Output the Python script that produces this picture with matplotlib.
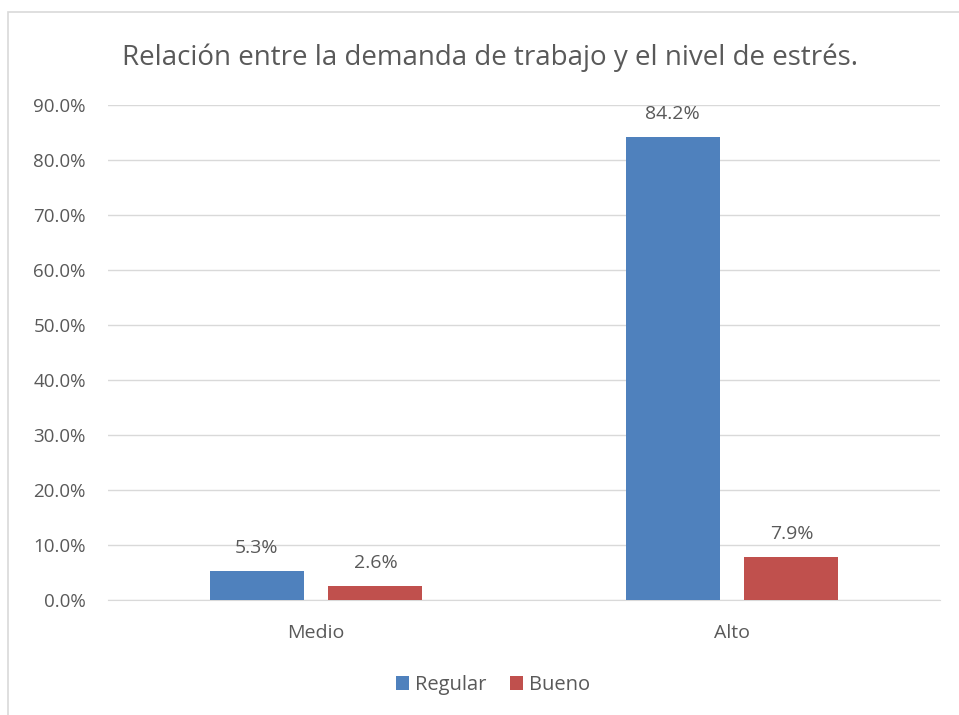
import matplotlib.pyplot as plt
import matplotlib.patches as mpatches
import numpy as np

categories = ['Medio', 'Alto']
series_names = ['Regular', 'Bueno']
regular = [0.053, 0.842]
bueno = [0.026, 0.079]
yticks = [0.0, 0.1, 0.2, 0.3, 0.4, 0.5, 0.6, 0.7, 0.8, 0.9]

plt.rcParams['font.family'] = ['Open Sans', 'DejaVu Sans']
text_color = '#595959'

fig = plt.figure(figsize=(9.59, 7.15), dpi=100)
ax = fig.add_axes([108 / 959, 115 / 715, 832 / 959, 495 / 715])

# outer chart border (cut off at right and bottom like the screenshot)
fig.patches.append(mpatches.Rectangle((8 / 959, -0.1), 2, (715 - 12) / 715 + 0.1,
                                      transform=fig.transFigure, fill=False,
                                      edgecolor='#d9d9d9', lw=1.2))

x = np.arange(len(categories))
w = 0.226
off = 0.143
colors = ['#4F81BD', '#C0504D']
for vals, dx, c, name in zip([regular, bueno], [-off, off], colors, series_names):
    bars = ax.bar(x + dx, vals, w, color=c, label=name, zorder=3)
    for b, v in zip(bars, vals):
        ax.annotate('{:.1f}%'.format(v * 100), (b.get_x() + b.get_width() / 2, v),
                    xytext=(0, 10), textcoords='offset points', ha='center', va='bottom',
                    fontsize=14, color=text_color)

ax.set_xlim(-0.5, 1.5)
ax.set_ylim(0, 0.9)
ax.set_yticks(yticks)
ax.set_yticklabels(['{:.1f}%'.format(t * 100) for t in yticks])
ax.set_xticks(x)
ax.set_xticklabels(categories)
ax.tick_params(length=0, labelsize=13.5, colors=text_color)
ax.tick_params(axis='x', labelsize=14, pad=17)
ax.tick_params(axis='y', pad=16)
ax.grid(axis='y', color='#d9d9d9', lw=1, zorder=0)
for s in ['top', 'right', 'left']:
    ax.spines[s].set_visible(False)
ax.spines['bottom'].set_color('#d9d9d9')

fig.text(490 / 959, 1 - 58 / 715, 'Relación entre la demanda de trabajo y el nivel de estrés.',
         ha='center', va='center', fontsize=20, color=text_color)

fig.legend(loc='center', bbox_to_anchor=(493 / 959, 1 - 685 / 715), ncol=2, frameon=False,
           fontsize=14.5, labelcolor=text_color, handlelength=0.65, handleheight=0.65,
           handletextpad=0.3, columnspacing=1.2)

fig.savefig('out.png', dpi=100)
